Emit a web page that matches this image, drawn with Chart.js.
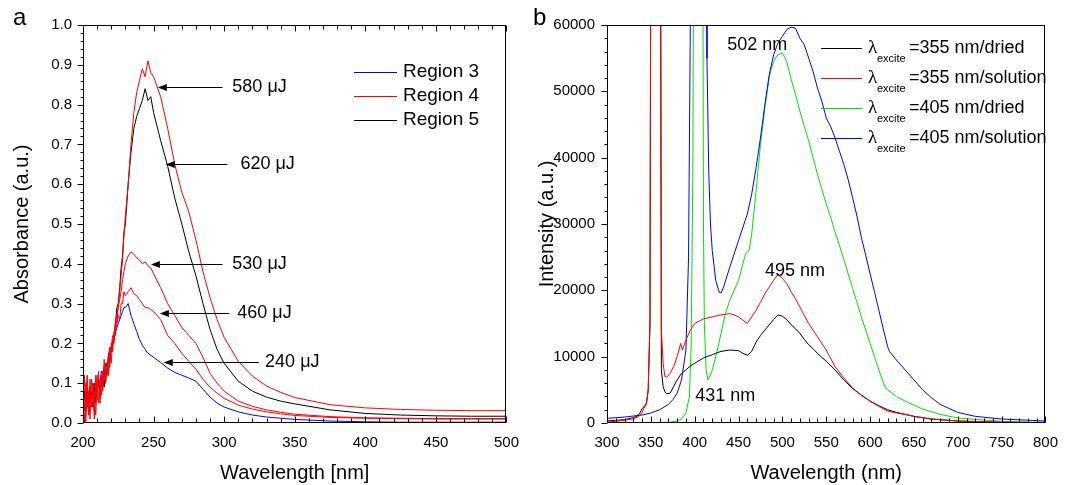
<!DOCTYPE html>
<html>
<head>
<meta charset="utf-8">
<script src="https://cdn.jsdelivr.net/npm/chart.js@4.4.0/dist/chart.umd.min.js"></script>
<style>
  html, body { margin: 0; padding: 0; background: #fff; }
  #boxA { position: absolute; left: 0; top: 0; }
  #boxB { position: absolute; left: 530px; top: 0; }
</style>
</head>
<body>
<div id="boxA"><canvas id="chartA" width="530" height="485"></canvas></div>
<div id="boxB"><canvas id="chartB" width="539" height="485"></canvas></div>
<script>
// --- panel a: absorbance spectra ---
const wlA = [200, 201, 202, 203, 204, 205, 206, 207, 208, 209, 210, 211, 212, 213, 214, 215, 216, 217, 218, 219, 220,
  221, 222, 223, 224, 225, 226, 227, 228, 229, 230,
  232, 234, 236, 238, 240, 242, 244, 246, 248, 250,
  255, 260, 265, 270, 275, 280, 285, 290, 295, 300,
  310, 320, 330, 340, 350,
  375, 400, 425, 450, 475, 500];

const absR3_240 = [0.06, 0.07, 0.05, 0.08, 0.06, 0.09, 0.07, 0.08, 0.10, 0.08, 0.10, 0.11, 0.10, 0.13, 0.12, 0.14, 0.15, 0.14, 0.17, 0.19, 0.18,
  0.20, 0.21, 0.23, 0.24, 0.25, 0.26, 0.27, 0.28, 0.29, 0.29,
  0.30, 0.27, 0.25, 0.23, 0.21, 0.195, 0.185, 0.175, 0.17, 0.165,
  0.152, 0.138, 0.127, 0.12, 0.113, 0.105, 0.085, 0.065, 0.05, 0.04,
  0.028, 0.02, 0.015, 0.012, 0.009,
  0.005, 0.003, 0.002, 0.002, 0.002, 0.002];

const absR4_580 = [0.02, 0.12, 0.0, 0.09, 0.03, 0.11, 0.05, 0.10, 0.01, 0.12, 0.06, 0.13, 0.05, 0.12, 0.09, 0.16, 0.10, 0.14, 0.12, 0.19, 0.15,
  0.21, 0.20, 0.26, 0.25, 0.30, 0.33, 0.37, 0.41, 0.47, 0.52,
  0.60, 0.70, 0.78, 0.83, 0.86, 0.89, 0.87, 0.91, 0.88, 0.87,
  0.82, 0.74, 0.65, 0.58, 0.53, 0.46, 0.38, 0.315, 0.26, 0.215,
  0.155, 0.118, 0.093, 0.077, 0.064,
  0.046, 0.038, 0.034, 0.032, 0.031, 0.031];

const absR4_530 = [0.06, 0.0, 0.10, 0.04, 0.08, 0.01, 0.11, 0.06, 0.03, 0.09, 0.12, 0.05, 0.10, 0.07, 0.13, 0.11, 0.15, 0.12, 0.17, 0.16, 0.19,
  0.22, 0.21, 0.25, 0.27, 0.29, 0.31, 0.33, 0.36, 0.38, 0.40,
  0.42, 0.43, 0.425, 0.415, 0.41, 0.40, 0.405, 0.395, 0.39, 0.375,
  0.34, 0.30, 0.27, 0.24, 0.22, 0.20, 0.165, 0.125, 0.10, 0.08,
  0.055, 0.042, 0.033, 0.027, 0.022,
  0.016, 0.013, 0.012, 0.011, 0.011, 0.011];

const absR4_460 = [0.09, 0.03, 0.07, 0.12, 0.02, 0.08, 0.04, 0.10, 0.07, 0.02, 0.09, 0.11, 0.06, 0.12, 0.08, 0.14, 0.10, 0.13, 0.16, 0.14, 0.20,
  0.18, 0.23, 0.22, 0.25, 0.27, 0.26, 0.30, 0.30, 0.33, 0.32,
  0.33, 0.34, 0.325, 0.32, 0.31, 0.30, 0.29, 0.29, 0.285, 0.28,
  0.26, 0.22, 0.20, 0.175, 0.155, 0.135, 0.11, 0.09, 0.075, 0.062,
  0.045, 0.035, 0.028, 0.023, 0.019,
  0.014, 0.012, 0.011, 0.010, 0.010, 0.010];

const absR5_620 = [0.05, 0.08, 0.03, 0.07, 0.02, 0.09, 0.06, 0.04, 0.10, 0.05, 0.08, 0.11, 0.07, 0.10, 0.12, 0.09, 0.13, 0.15, 0.12, 0.17, 0.18,
  0.20, 0.22, 0.25, 0.29, 0.30, 0.34, 0.39, 0.42, 0.48, 0.50,
  0.60, 0.68, 0.74, 0.77, 0.79, 0.81, 0.84, 0.81, 0.82, 0.78,
  0.71, 0.645, 0.565, 0.50, 0.43, 0.37, 0.30, 0.235, 0.185, 0.15,
  0.105, 0.08, 0.065, 0.055, 0.048,
  0.033, 0.024, 0.020, 0.018, 0.017, 0.017];

const absTicksX = [200, 250, 300, 350, 400, 450, 500];

// --- panel b: emission spectra ---
const wlDry355 = [300, 310, 320, 330, 335, 338, 340, 342, 345, 347, 349, 350, 361, 362, 364, 366, 368, 372, 376, 380, 385, 390, 395, 400,
  410, 420, 430, 440, 450, 455, 460, 465, 470, 475, 480, 485, 490, 495, 500, 505, 510, 515, 520, 525, 530, 535, 540, 545, 550, 560, 570, 580, 590,
  600, 610, 620, 630, 640, 650, 670, 700, 750, 800];
const intDry355 = [300, 400, 500, 800, 1100, 1600, 2200, 2400, 3000, 5000, 15000, 80000, 80000, 8000, 5500, 4700, 4400, 4500, 5500, 6500, 7500, 8000, 8600, 9000,
  9800, 10300, 10800, 11000, 10900, 10500, 10200, 10800, 12200, 13200, 14000, 14800, 15600, 16300, 16100, 15600, 14800, 14200, 13500, 12600, 11800, 11200, 10500, 9900, 9300, 8000, 6500, 5200, 4200,
  3300, 2600, 2000, 1600, 1300, 1000, 600, 300, 100, 50];

const wlSol355 = [300, 310, 320, 330, 335, 338, 340, 342, 345, 347, 349, 350, 361, 362, 364, 366, 368, 372, 376, 380, 383, 384, 386, 390, 395, 400,
  410, 420, 430, 440, 445, 450, 455, 460, 465, 470, 475, 480, 485, 490, 495, 500, 505, 510, 515, 520, 525, 530, 535, 540, 545, 550, 560, 570, 580, 590,
  600, 610, 620, 630, 640, 650, 670, 700, 750, 800];
const intSol355 = [150, 250, 400, 650, 900, 1200, 1600, 2200, 2800, 5000, 15000, 80000, 80000, 14000, 9000, 7000, 6900, 7500, 8500, 10000, 11500, 12000, 11000, 12500, 14000, 15000,
  15700, 16000, 16300, 16500, 16300, 16000, 15500, 15000, 16000, 17000, 18200, 19500, 20500, 21500, 22400, 21800, 21000, 19800, 18700, 17500, 16200, 15000, 14000, 13000, 12000, 11000, 8500, 6800, 5300, 4200,
  3300, 2500, 1800, 1500, 1300, 1000, 600, 300, 120, 60];

const wlDry405 = [300, 350, 370, 380, 385, 390, 394, 396, 398, 399, 409, 410, 411, 413, 415, 418, 420, 425, 430, 435, 440, 445, 450, 455, 458,
  462, 465, 470, 475, 480, 485, 487, 490, 492, 495, 500, 505, 510, 515, 520, 525, 530, 535, 540, 545, 550, 555, 560, 565, 570, 575, 580, 585, 590,
  595, 600, 605, 610, 617, 620, 630, 640, 650, 660, 680, 700, 750, 800];
const intDry405 = [0, 0, 100, 300, 600, 1500, 4000, 12000, 40000, 90000, 90000, 30000, 15000, 8000, 6500, 7200, 8000, 10500, 13500, 16500, 18500, 20000, 21500, 24000, 25500,
  26000, 28500, 35000, 42000, 47500, 52000, 53200, 54500, 55000, 55500, 55800, 54500, 51800, 49500, 47000, 44700, 42500, 40000, 37500, 35200, 33000, 31000, 28800, 26800, 24700, 22500, 20300, 18200, 16000,
  14000, 12000, 10000, 8000, 5400, 5000, 4000, 3300, 2700, 2100, 1300, 750, 250, 100];

const wlSol405 = [300, 320, 340, 350, 360, 370, 375, 380, 385, 390, 393, 395, 396, 413, 414, 416, 418, 420, 424, 428, 430, 433, 440, 450, 460,
  465, 470, 475, 480, 485, 490, 495, 500, 505, 510, 515, 520, 525, 530, 535, 540, 545, 550, 555, 560, 565, 570, 575, 580, 585, 590,
  595, 600, 605, 610, 615, 620, 622, 630, 640, 650, 660, 670, 680, 700, 720, 750, 800];
const intSol405 = [700, 900, 1200, 1500, 2000, 2800, 3500, 4500, 6500, 11000, 25000, 60000, 90000, 90000, 55000, 38000, 30000, 26000, 21500, 19700, 19600, 20500, 23500, 27500, 31500,
  34500, 38500, 43000, 48000, 52500, 55500, 57300, 58300, 59300, 59700, 59500, 58000, 57000, 55000, 53000, 50500, 48500, 46000, 44700, 43000, 41000, 39000, 36700, 34000, 31200, 28000,
  25300, 22500, 19800, 17000, 14200, 11500, 10800, 9500, 8000, 6500, 5000, 3800, 2800, 1600, 1000, 600, 300];

Chart.defaults.font.family = '"Liberation Sans", Arial, sans-serif';
Chart.defaults.color = '#000';
Chart.defaults.animation = false;

const pts = (xs, ys) => xs.map((x, i) => ({ x, y: ys[i] }));

// frame around the plot plus small tick marks (major and minor)
const frameTicks = {
  id: 'frameTicks',
  afterDatasetsDraw(chart, args, o) {
    const { ctx, chartArea: a, scales: { x, y } } = chart;
    const L = Math.round(a.left) + 0.5, R = Math.round(a.right) - 0.5;
    const T = Math.round(a.top) + 0.5, B = Math.round(a.bottom) - 0.5;
    ctx.save();
    ctx.strokeStyle = '#000';
    ctx.lineWidth = 1;
    ctx.strokeRect(L, T, R - L, B - T);
    const walk = (scale, minor, major, fn) => {
      const n = Math.round((scale.max - scale.min) / minor);
      for (let i = 0; i <= n; i++) {
        const v = scale.min + i * minor;
        const big = Math.abs(v / major - Math.round(v / major)) < 1e-6;
        fn(Math.round(scale.getPixelForValue(v)) + 0.5, big);
      }
    };
    ctx.beginPath();
    walk(x, o.xMinor, o.xMajor, (px, big) => {
      const l = big ? o.major : o.minor;
      ctx.moveTo(px, B); ctx.lineTo(px, B - l);
      if (o.top) { ctx.moveTo(px, T); ctx.lineTo(px, T + l); }
    });
    walk(y, o.yMinor, o.yMajor, (py, big) => {
      const l = big ? o.yMajorLen : o.yMinorLen;
      ctx.moveTo(L, py); ctx.lineTo(L - l, py);
    });
    ctx.stroke();
    ctx.restore();
  }
};

// hand drawn key, so the lambda with subscript can be written
const keyBox = {
  id: 'keyBox',
  afterDatasetsDraw(chart, args, o) {
    const ctx = chart.ctx;
    const items = chart.data.datasets.filter(d => d.key).sort((p, q) => p.key - q.key);
    ctx.save();
    ctx.textBaseline = 'middle';
    ctx.textAlign = 'left';
    items.forEach((d, i) => {
      const y = o.y + i * o.dy;
      ctx.strokeStyle = d.borderColor;
      ctx.lineWidth = 1;
      ctx.beginPath();
      ctx.moveTo(o.x, Math.round(y) + 0.5);
      ctx.lineTo(o.x + o.len, Math.round(y) + 0.5);
      ctx.stroke();
      ctx.fillStyle = '#000';
      let tx = o.x + o.len + o.gap;
      if (o.sym) {
        ctx.font = o.symFont;
        ctx.fillText(o.sym, tx, y);
        ctx.font = o.subFont;
        ctx.fillText(o.sub, tx + o.subDx, y + o.subDy);
        tx += o.textDx;
      }
      ctx.font = o.font;
      ctx.fillText(d.label, tx, y);
    });
    ctx.restore();
  }
};

// labels in data units, some with a leftward arrow
const arrowNotes = {
  id: 'arrowNotes',
  afterDatasetsDraw(chart, args, o) {
    const { ctx, scales: { x, y } } = chart;
    ctx.save();
    ctx.font = o.font;
    ctx.fillStyle = '#000';
    ctx.strokeStyle = '#000';
    ctx.lineWidth = 1;
    ctx.textBaseline = 'middle';
    ctx.textAlign = 'left';
    o.notes.forEach(n => {
      const py = Math.round(y.getPixelForValue(n.at[1])) + 0.5;
      if (n.tail != null) {
        const hx = x.getPixelForValue(n.at[0]);
        const tx = x.getPixelForValue(n.tail);
        ctx.beginPath();
        ctx.moveTo(tx, py); ctx.lineTo(hx + 8, py);
        ctx.stroke();
        ctx.beginPath();
        ctx.moveTo(hx, py); ctx.lineTo(hx + 9, py - 3.5); ctx.lineTo(hx + 9, py + 3.5);
        ctx.closePath();
        ctx.fill();
      }
      ctx.fillText(n.text, x.getPixelForValue(n.textX != null ? n.textX : n.at[0]), py);
    });
    ctx.restore();
  }
};

const panelTag = {
  id: 'panelTag',
  afterDraw(chart, args, o) {
    const ctx = chart.ctx;
    ctx.save();
    ctx.font = '24px "Liberation Sans", Arial, sans-serif';
    ctx.fillStyle = '#000';
    ctx.textBaseline = 'alphabetic';
    ctx.fillText(o.text, o.x, o.y);
    ctx.restore();
  }
};

const flatGrid = { display: false, drawTicks: false };

new Chart(document.getElementById('chartA'), {
  type: 'line',
  data: {
    datasets: [
      { label: 'Region 3', data: pts(wlA, absR3_240), borderColor: '#0000ff', order: 3, key: 1 },
      { label: 'Region 4', data: pts(wlA, absR4_460), borderColor: '#ff0000', order: 1 },
      { label: 'Region 4', data: pts(wlA, absR4_530), borderColor: '#ff0000', order: 1 },
      { label: 'Region 4', data: pts(wlA, absR4_580), borderColor: '#ff0000', order: 1, key: 2 },
      { label: 'Region 5', data: pts(wlA, absR5_620), borderColor: '#000000', order: 2, key: 3 }
    ]
  },
  options: {
    responsive: false,
    animation: false,
    layout: { padding: { left: 0, top: 25, right: 21, bottom: 0 } },
    elements: { point: { radius: 0 }, line: { borderWidth: 1, tension: 0 } },
    plugins: {
      legend: { display: false },
      tooltip: { enabled: false },
      frameTicks: { xMinor: 10, xMajor: 50, yMinor: 0.02, yMajor: 0.1, major: 6, minor: 4, yMajorLen: 6, yMinorLen: 3, top: true },
      keyBox: { x: 354, y: 72, dy: 24, len: 43, gap: 6, font: '19px "Liberation Sans", Arial, sans-serif' },
      arrowNotes: {
        font: '18px "Liberation Sans", Arial, sans-serif',
        notes: [
          { text: '580 μJ', at: [253, 0.845], tail: 298.8, textX: 305.8 },
          { text: '620 μJ', at: [258.6, 0.651], tail: 302.3, textX: 311.5 },
          { text: '530 μJ', at: [248.1, 0.40], tail: 298.8, textX: 305.8 },
          { text: '460 μJ', at: [254.4, 0.277], tail: 303.7, textX: 309.3 },
          { text: '240 μJ', at: [257.2, 0.154], tail: 324.8, textX: 329.0 }
        ]
      },
      panelTag: { text: 'a', x: 13, y: 25 }
    },
    scales: {
      x: {
        type: 'linear', min: 200, max: 500,
        afterFit: s => { s.height = 62; },
        afterBuildTicks: s => { s.ticks = absTicksX.map(v => ({ value: v })); },
        grid: flatGrid, border: { display: false },
        ticks: { padding: 11, font: { size: 15 }, callback: v => String(v) },
        title: { display: true, text: 'Wavelength [nm]', font: { size: 20 }, padding: { top: 0, bottom: 0 } }
      },
      y: {
        min: 0, max: 1,
        afterFit: s => { s.width = 83; },
        grid: flatGrid, border: { display: false },
        ticks: { stepSize: 0.1, padding: 11, font: { size: 15 }, callback: v => Number(v).toFixed(1) },
        title: { display: true, text: 'Absorbance (a.u.)', font: { size: 20 }, padding: { top: 10, bottom: 0 } }
      }
    }
  },
  plugins: [frameTicks, keyBox, arrowNotes, panelTag]
});

new Chart(document.getElementById('chartB'), {
  type: 'line',
  data: {
    datasets: [
      { label: '=355 nm/dried', data: pts(wlDry355, intDry355), borderColor: '#000000', order: 2, key: 1 },
      { label: '=355 nm/solution', data: pts(wlSol355, intSol355), borderColor: '#ff0000', order: 1, key: 2 },
      { label: '=405 nm/dried', data: pts(wlDry405, intDry405), borderColor: '#00e000', order: 4, key: 3 },
      { label: '=405 nm/solution', data: pts(wlSol405, intSol405), borderColor: '#0000ff', order: 3, key: 4 }
    ]
  },
  options: {
    responsive: false,
    animation: false,
    layout: { padding: { left: 0, top: 25, right: 15, bottom: 0 } },
    elements: { point: { radius: 0 }, line: { borderWidth: 1, tension: 0 } },
    plugins: {
      legend: { display: false },
      tooltip: { enabled: false },
      frameTicks: { xMinor: 10, xMajor: 50, yMinor: 2000, yMajor: 10000, major: 6, minor: 4, yMajorLen: 6, yMinorLen: 3, top: false },
      keyBox: {
        x: 291, y: 48, dy: 30, len: 41, gap: 6,
        font: '18px "Liberation Sans", Arial, sans-serif',
        sym: 'λ', symFont: '19px "Liberation Serif", serif',
        sub: 'excite', subFont: '11px "Liberation Sans", Arial, sans-serif',
        subDx: 9, subDy: 11, textDx: 41
      },
      arrowNotes: {
        font: '18px "Liberation Sans", Arial, sans-serif',
        notes: [
          { text: '502 nm', at: [437.0, 56990] },
          { text: '495 nm', at: [480.1, 22840] },
          { text: '431 nm', at: [400.7, 4010] }
        ]
      },
      panelTag: { text: 'b', x: 3, y: 25 }
    },
    scales: {
      x: {
        type: 'linear', min: 300, max: 800,
        afterFit: s => { s.height = 62; },
        grid: flatGrid, border: { display: false },
        ticks: { stepSize: 50, padding: 11, font: { size: 15 }, callback: v => String(v) },
        title: { display: true, text: 'Wavelength (nm)', font: { size: 20 }, padding: { top: 0, bottom: 0 } }
      },
      y: {
        min: 0, max: 60000,
        afterFit: s => { s.width = 77; },
        grid: flatGrid, border: { display: false },
        ticks: { stepSize: 10000, padding: 12, font: { size: 15 }, callback: v => String(v) },
        title: { display: true, text: 'Intensity (a.u.)', font: { size: 20 }, padding: { top: 5, bottom: 0 } }
      }
    }
  },
  plugins: [frameTicks, keyBox, arrowNotes, panelTag]
});
</script>
</body>
</html>
